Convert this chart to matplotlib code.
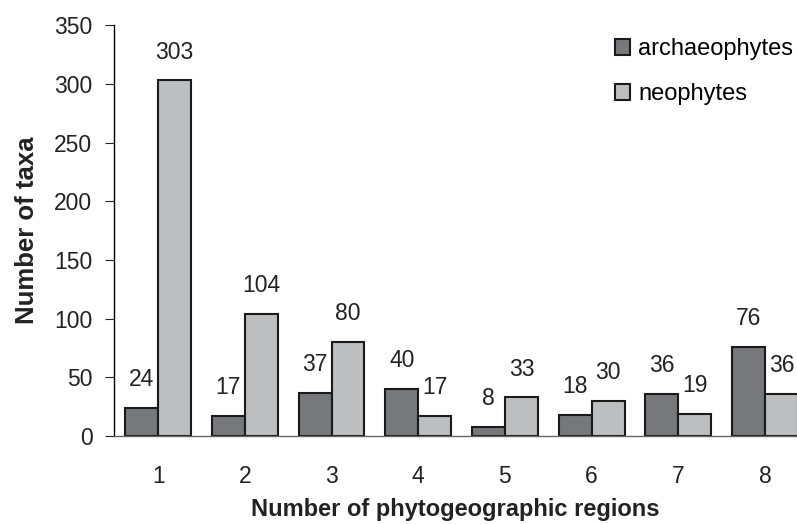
import matplotlib.pyplot as plt
import numpy as np

plt.rcParams['font.family'] = ['Liberation Sans', 'DejaVu Sans']

regions = [1, 2, 3, 4, 5, 6, 7, 8]
archaeophytes = [24, 17, 37, 40, 8, 18, 36, 76]
neophytes = [303, 104, 80, 17, 33, 30, 19, 36]

fig = plt.figure(figsize=(7.97, 5.24), dpi=100)
ax = fig.add_axes([0.143, 0.168, 0.857, 0.784])

x = np.array(regions)
w = 0.38
b1 = ax.bar(x - w / 2, archaeophytes, w, color='#77787b', edgecolor='#1a1a1a',
            linewidth=1.5, label='archaeophytes')
b2 = ax.bar(x + w / 2, neophytes, w, color='#bcbec0', edgecolor='#1a1a1a',
            linewidth=1.5, label='neophytes')

for bars in (b1, b2):
    for rect in bars:
        h = rect.get_height()
        ax.annotate(str(int(h)), (rect.get_x() + rect.get_width() / 2, h),
                    xytext=(0, 12), textcoords='offset points',
                    ha='center', va='bottom', fontsize=16.5, color='#222222')

ax.set_xlim(0.49, 8.37)
ax.set_ylim(0, 350)
ax.set_yticks(range(0, 351, 50))
ax.set_xticks(regions)
ax.tick_params(axis='y', direction='out', length=6.5, pad=9, labelsize=16.5,
               colors='#222222')
ax.tick_params(axis='x', length=0, labelsize=16.5, pad=21, colors='#222222')
ax.spines['top'].set_visible(False)
ax.spines['right'].set_visible(False)
ax.spines['bottom'].set_color('#666666')
ax.spines['bottom'].set_linewidth(1.0)
ax.spines['left'].set_linewidth(1.0)

ax.set_xlabel('Number of phytogeographic regions', fontsize=17, fontweight='bold',
              labelpad=7, color='#222222')
ax.set_ylabel('Number of taxa', fontsize=18.5, fontweight='bold', labelpad=11,
              color='#222222')

ax.legend(loc='upper left', bbox_to_anchor=(0.733, 0.968), frameon=False,
          fontsize=17, handlelength=0.66, handleheight=0.66, handletextpad=0.34,
          labelspacing=0.97, borderaxespad=0, borderpad=0)

plt.savefig('out.png', dpi=100)
